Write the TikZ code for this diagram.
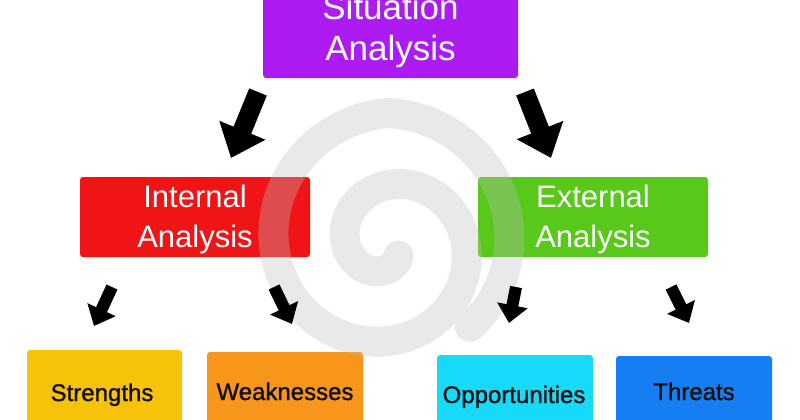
\documentclass[tikz,border=0pt]{standalone}
\usepackage{fontspec}
\setmainfont{Liberation Sans}
\usetikzlibrary{arrows.meta}
\definecolor{cpurple}{RGB}{172,28,242}
\definecolor{cred}{RGB}{240,20,22}
\definecolor{cgreen}{RGB}{88,200,26}
\definecolor{cyellow}{RGB}{247,195,10}
\definecolor{corange}{RGB}{247,150,26}
\definecolor{ccyan}{RGB}{22,218,247}
\definecolor{cblue}{RGB}{20,126,242}
\definecolor{cwm}{RGB}{190,190,190}
\begin{document}
\begin{tikzpicture}[x=1pt,y=-1pt,
  box/.style={rectangle, rounded corners=3pt, inner sep=0pt, draw=none},
  bigtxt/.style={anchor=base, text=white, font=\fontsize{35}{40}\selectfont},
  midtxt/.style={anchor=base, text=white, font=\fontsize{31}{38}\selectfont},
  smalltxt/.style={anchor=base, text={rgb,255:red,15;green,15;blue,15}, font=\fontsize{24}{28}\selectfont\addfontfeature{FakeBold=1.2}},
  bigarrow/.style={line width=19pt, -{Triangle[length=30pt,width=48pt]}},
  smallarrow/.style={line width=12pt, -{Triangle[length=18pt,width=30pt]}},
  wm/.style={line width=30pt, line cap=round, draw=cwm, opacity=0.33}]
\useasboundingbox (0,0) rectangle (800,420);
\clip (0,0) rectangle (800,420);
\fill[white] (0,0) rectangle (800,420);

% boxes
\node[box, fill=cpurple, minimum width=255pt, minimum height=92pt] (sit) at (390.5,32) {};
\node[box, fill=cred, minimum width=230pt, minimum height=80pt] (int) at (195,217) {};
\node[box, fill=cgreen, minimum width=230pt, minimum height=80pt] (ext) at (593,217) {};
\node[box, fill=cyellow, minimum width=155pt, minimum height=90pt] (str) at (104.5,395) {};
\node[box, fill=corange, minimum width=156pt, minimum height=90pt] (wea) at (285,397) {};
\node[box, fill=ccyan, minimum width=156pt, minimum height=90pt] (opp) at (515,400) {};
\node[box, fill=cblue, minimum width=156pt, minimum height=90pt] (thr) at (694,401) {};

% watermark spiral
\draw[wm] plot[domain=45:765, samples=240, smooth]
  ({388+min(15+0.2*(\x-45),207.6-0.12*\x)*cos(\x)},
   {245+min(15+0.2*(\x-45),207.6-0.12*\x)*sin(\x)});

% texts
\node[bigtxt] (sitA) at (390.5,20) {Situation};
\node[bigtxt] (sitB) at (390.5,61) {Analysis};
\node[midtxt] (intA) at (195,207) {Internal};
\node[midtxt] (intB) at (195,247) {Analysis};
\node[midtxt] (extA) at (593,207) {External};
\node[midtxt] (extB) at (593,247) {Analysis};
\node[smalltxt] (strT) at (102,401) {Strengths};
\node[smalltxt] (weaT) at (285,400) {Weaknesses};
\node[smalltxt] (oppT) at (514,403) {Opportunities};
\node[smalltxt] (thrT) at (694,400) {Threats};

% arrows
\coordinate (a1s) at (258,92);  \coordinate (a1e) at (231,158);
\coordinate (a2s) at (525,92);  \coordinate (a2e) at (551,158);
\coordinate (a3s) at (112,287); \coordinate (a3e) at (94,326);
\coordinate (a4s) at (274,287); \coordinate (a4e) at (292,324);
\coordinate (a5s) at (516,287); \coordinate (a5e) at (509,323);
\coordinate (a6s) at (671,287); \coordinate (a6e) at (689,323);
\draw[bigarrow] (a1s) -- (a1e);
\draw[bigarrow] (a2s) -- (a2e);
\draw[smallarrow] (a3s) -- (a3e);
\draw[smallarrow] (a4s) -- (a4e);
\draw[smallarrow] (a5s) -- (a5e);
\draw[smallarrow] (a6s) -- (a6e);
\end{tikzpicture}
\end{document}
